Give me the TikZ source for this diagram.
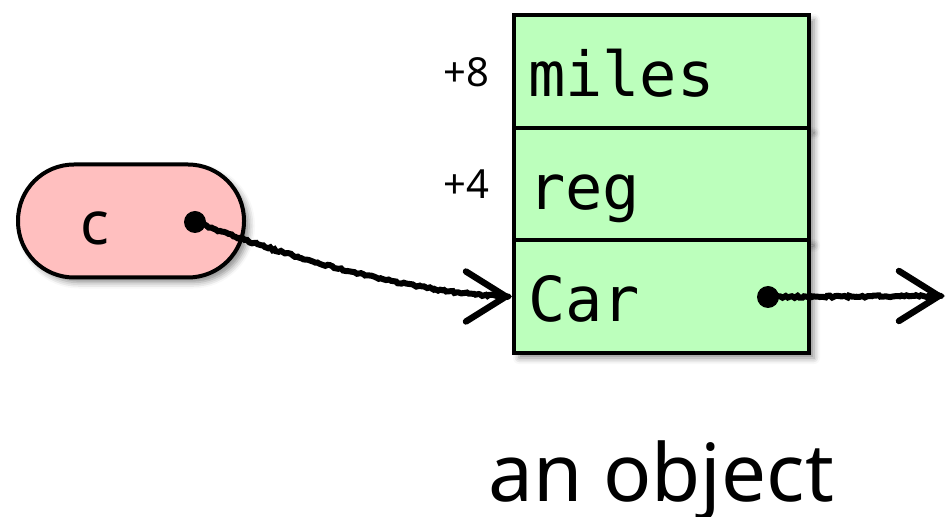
\documentclass[tikz,border=0pt]{standalone}
\usepackage{fontspec}
\setmainfont{Noto Sans}
\newfontfamily\cellfont{DejaVu Sans Mono}
\usetikzlibrary{shadows.blur,decorations.pathmorphing,arrows.meta}
\definecolor{varpink}{RGB}{255,191,191}
\definecolor{fieldgreen}{RGB}{188,255,188}
\begin{document}
\begin{tikzpicture}[x=0.5pt,y=-0.5pt,
  softshadow/.style={blur shadow={shadow xshift=2.5pt,shadow yshift=-2.5pt,shadow blur radius=3pt,shadow opacity=45}},
  field/.style={draw,line width=2pt,fill=fieldgreen,anchor=north west,
    minimum width=147.5pt,minimum height=56.5pt,inner xsep=7pt,inner ysep=0pt,
    text width=133.5pt,align=left,text height=25pt,text depth=0pt,
    font=\cellfont\fontsize{31}{36}\selectfont,softshadow},
  offset/.style={anchor=base east,font=\fontsize{20}{24}\selectfont},
  varbox/.style={draw,line width=2pt,fill=varpink,rounded corners=28pt,
    minimum width=113pt,minimum height=56.5pt,softshadow},
  dot/.style={circle,fill=black,minimum size=11pt,inner sep=0pt},
  % rough hand-drawn pointer line
  ptr/.style={line width=3pt,line cap=round,
    decorate,decoration={random steps,segment length=1.2pt,amplitude=0.5pt}},
  % open barb closing a pointer
  barb/.style={line width=3.2pt,line cap=round,line join=round,
    -{Straight Barb[length=20pt,width=25pt,line cap=round]}}]
\useasboundingbox (0,0) rectangle (947,517);
\pgfmathsetseed{7}

% local variable c
\node[varbox] (var) at (131,221) {};
\node[anchor=base,font=\fontsize{30}{36}\selectfont] (varname) at (95,245) {c};
\node[dot] (cptr) at (195,222) {};

% the object's fields
\node[field] (miles) at (512,13) {miles};
\node[field] (reg) at (512,126) {reg};
\node[field] (car) at (512,238) {Car};
\node[offset] (off8) at (496,87) {+8};
\node[offset] (off4) at (496,199) {+4};
\node[dot] (vptr) at (768,297) {};
\coordinate (vtable) at (945,296);

% pointers
\draw[ptr] (cptr.center) .. controls (300,262) and (420,294) .. ([xshift=-2pt]car.west);
\draw[barb] ([xshift=-3pt]car.west) -- (car.west);
\draw[ptr] (vptr.center) -- ([xshift=-2pt]vtable);
\draw[barb] ([xshift=-3pt]vtable) -- (vtable);

\node[anchor=base,font=\fontsize{40}{48}\selectfont] (caption) at (661,502) {an object};
\end{tikzpicture}
\end{document}
